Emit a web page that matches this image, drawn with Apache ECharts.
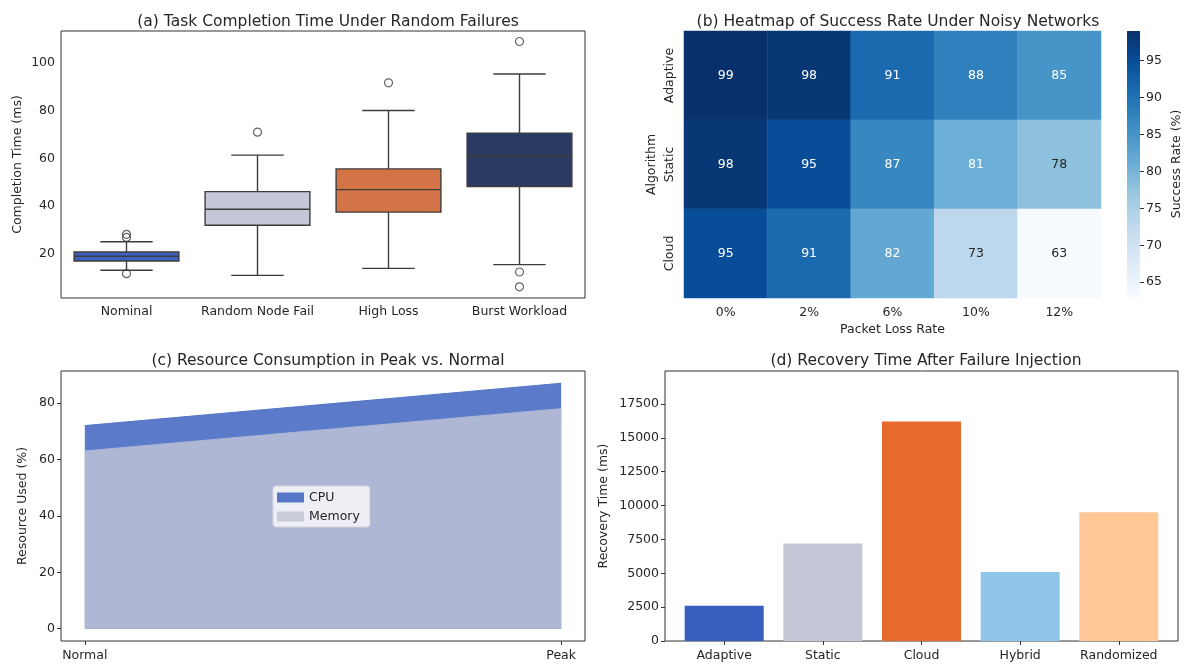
<!DOCTYPE html>
<html>
<head>
<meta charset="utf-8">
<script src="https://cdn.jsdelivr.net/npm/echarts@6/dist/echarts.min.js"></script>
<style>
  html, body { margin: 0; padding: 0; background: #fff; }
  #chart { width: 1186px; height: 667px; }
</style>
</head>
<body>
<div id="chart"></div>
<script>
// (a) completion time box statistics per scenario
const boxCategories = ['Nominal', 'Random Node Fail', 'High Loss', 'Burst Workload'];
const boxLow = [13.1, 11.0, 13.9, 15.5];
const boxQ1 = [17.0, 32.0, 37.5, 48.2];
const boxMedian = [19.0, 38.7, 46.9, 60.8];
const boxQ3 = [20.8, 46.1, 55.6, 70.6];
const boxHigh = [25.1, 61.4, 80.1, 95.4];
const boxOutliers = [[0, 28.2], [0, 26.9], [0, 11.7], [1, 71.0], [2, 91.7], [3, 109.0], [3, 12.4], [3, 6.2]];
const boxColors = ['#3d60c2', '#c3c7d6', '#d47345', '#2a3a62'];

// (b) success rate by algorithm and packet loss
const lossRates = ['0%', '2%', '6%', '10%', '12%'];
const algorithms = ['Adaptive', 'Static', 'Cloud'];
const successAdaptive = [99, 98, 91, 88, 85];
const successStatic = [98, 95, 87, 81, 78];
const successCloud = [95, 91, 82, 73, 63];
const colorbarTicks = [65, 70, 75, 80, 85, 90, 95];
const blues = ['#f7fbff', '#deebf7', '#c6dbef', '#9ecae1', '#6baed6', '#4292c6', '#2171b5', '#08519c', '#08306b'];

// (c) resource use
const phases = ['Normal', 'Peak'];
const cpuUsed = [72, 87];
const memoryUsed = [63, 78];

// (d) recovery time
const strategies = ['Adaptive', 'Static', 'Cloud', 'Hybrid', 'Randomized'];
const recoveryMs = [2600, 7200, 16200, 5100, 9500];
const recoveryTicks = [0, 2500, 5000, 7500, 10000, 12500, 15000, 17500];
const barColors = ['#385fbf', '#c3c7d6', '#e8692d', '#8fc6ea', '#ffc896'];

const FONT = 'DejaVu Sans';
const TXT = '#262626';
const EDGE = '#3d3d3d';
const TICK_FS = 12.5;

const successRows = [successAdaptive, successStatic, successCloud];
const heatData = [];
successRows.forEach((row, r) => row.forEach((v, c) => {
  heatData.push({ value: [c, r, v], label: { color: v >= 80 ? '#ffffff' : TXT } });
}));

const boxData = boxCategories.map((_, i) => [i, boxLow[i], boxQ1[i], boxMedian[i], boxQ3[i], boxHigh[i]]);

const noLine = { show: false, onZero: false };
const tickStyle = { length: 4, lineStyle: { color: '#333', width: 1 } };
const labelStyle = { color: TXT, fontSize: TICK_FS, fontFamily: FONT, interval: 0, hideOverlap: false };
const nameStyle = { color: TXT, fontSize: TICK_FS, fontFamily: FONT };

const chart = echarts.init(document.getElementById('chart'), null, { renderer: 'canvas' });

const option = {
  animation: false,
  backgroundColor: '#ffffff',
  textStyle: { fontFamily: FONT },
  title: [
    { text: '(a) Task Completion Time Under Random Failures', left: 323, top: 9 },
    { text: '(b) Heatmap of Success Rate Under Noisy Networks', left: 893, top: 9 },
    { text: '(c) Resource Consumption in Peak vs. Normal', left: 323, top: 348 },
    { text: '(d) Recovery Time After Failure Injection', left: 921, top: 348 }
  ].map(t => Object.assign(t, { textAlign: 'center', textStyle: { color: TXT, fontSize: 15.5, fontWeight: 'normal', fontFamily: FONT } })),
  grid: [
    { left: 61, top: 31, width: 524, height: 267, show: true, borderColor: '#333', borderWidth: 1, backgroundColor: 'transparent' },
    { left: 684, top: 31, width: 417, height: 267 },
    { left: 1127, top: 31, width: 13, height: 266 },
    { left: 61, top: 371, width: 524, height: 270, show: true, borderColor: '#333', borderWidth: 1, backgroundColor: 'transparent' },
    { left: 665, top: 371, width: 513, height: 270, show: true, borderColor: '#333', borderWidth: 1, backgroundColor: 'transparent' }
  ],
  xAxis: [
    { gridIndex: 0, type: 'category', data: boxCategories, boundaryGap: true,
      axisLine: noLine, axisTick: Object.assign({ alignWithLabel: true, interval: 0 }, tickStyle),
      axisLabel: Object.assign({ margin: 7 }, labelStyle), splitLine: { show: false } },
    { gridIndex: 1, type: 'category', data: lossRates, boundaryGap: true,
      axisLine: noLine, axisTick: Object.assign({ alignWithLabel: true, interval: 0 }, tickStyle),
      axisLabel: Object.assign({ margin: 8 }, labelStyle),
      name: 'Packet Loss Rate', nameLocation: 'middle', nameGap: 25, nameTextStyle: nameStyle },
    { gridIndex: 2, type: 'value', min: 0, max: 1, show: false },
    { gridIndex: 3, type: 'value', min: -0.05, max: 1.05,
      axisLine: noLine, axisTick: Object.assign({ customValues: [0, 1] }, tickStyle),
      axisLabel: Object.assign({ customValues: [0, 1], margin: 8, formatter: v => phases[Math.round(v)] }, labelStyle),
      splitLine: { show: false } },
    { gridIndex: 4, type: 'value', min: -0.6, max: 4.6,
      axisLine: noLine, axisTick: Object.assign({ customValues: [0, 1, 2, 3, 4] }, tickStyle),
      axisLabel: Object.assign({ customValues: [0, 1, 2, 3, 4], margin: 8, formatter: v => strategies[Math.round(v)] }, labelStyle),
      splitLine: { show: false } }
  ],
  yAxis: [
    { gridIndex: 0, type: 'value', min: 1.5, max: 113.4,
      axisLine: noLine, axisTick: Object.assign({ customValues: [20, 40, 60, 80, 100] }, tickStyle),
      axisLabel: Object.assign({ customValues: [20, 40, 60, 80, 100], margin: 6 }, labelStyle),
      splitLine: { show: false },
      name: 'Completion Time (ms)', nameLocation: 'middle', nameGap: 37, nameTextStyle: nameStyle },
    { gridIndex: 1, type: 'category', data: algorithms, inverse: true, boundaryGap: true,
      axisLine: noLine, axisTick: Object.assign({ alignWithLabel: true, interval: 0 }, tickStyle),
      axisLabel: Object.assign({ rotate: 90, margin: 8 }, labelStyle),
      name: 'Algorithm', nameLocation: 'middle', nameGap: 26, nameTextStyle: nameStyle },
    { gridIndex: 2, type: 'value', min: 63, max: 99, position: 'right',
      axisLine: noLine, axisTick: Object.assign({ customValues: colorbarTicks }, tickStyle),
      axisLabel: Object.assign({ customValues: colorbarTicks, margin: 6 }, labelStyle),
      splitLine: { show: false },
      name: 'Success Rate (%)', nameLocation: 'middle', nameGap: 30, nameRotate: 90, nameTextStyle: nameStyle },
    { gridIndex: 3, type: 'value', min: -4.35, max: 91.35,
      axisLine: noLine, axisTick: Object.assign({ customValues: [0, 20, 40, 60, 80] }, tickStyle),
      axisLabel: Object.assign({ customValues: [0, 20, 40, 60, 80], margin: 6 }, labelStyle),
      splitLine: { show: false },
      name: 'Resource Used (%)', nameLocation: 'middle', nameGap: 32, nameTextStyle: nameStyle },
    { gridIndex: 4, type: 'value', min: 0, max: 19930,
      axisLine: noLine,
      axisTick: Object.assign({ customValues: recoveryTicks }, tickStyle),
      axisLabel: Object.assign({ customValues: recoveryTicks, margin: 6, formatter: v => String(v) }, labelStyle),
      splitLine: { show: false },
      name: 'Recovery Time (ms)', nameLocation: 'middle', nameGap: 55, nameTextStyle: nameStyle }
  ],
  visualMap: [{
    type: 'continuous', show: false, seriesIndex: 2, dimension: 2,
    min: 63, max: 99, inRange: { color: blues }
  }],
  legend: {
    left: 273, top: 486, orient: 'vertical', icon: 'rect',
    itemWidth: 27, itemHeight: 10, itemGap: 6,
    padding: [5, 10, 4, 4],
    backgroundColor: 'rgba(240,241,246,0.95)', borderColor: '#d5d6dc', borderWidth: 1, borderRadius: 3,
    textStyle: { color: TXT, fontSize: TICK_FS, fontFamily: FONT },
    data: [
      { name: 'CPU', itemStyle: { color: '#5677c8' } },
      { name: 'Memory', itemStyle: { color: '#c8ccd9' } }
    ]
  },
  series: [
    // (a) boxes with half-width whisker caps
    {
      type: 'custom', xAxisIndex: 0, yAxisIndex: 0, data: boxData,
      renderItem: function (params, api) {
        const i = api.value(0);
        const band = api.size([1, 0])[0];
        const bw = band * 0.8;
        const cw = bw * 0.5;
        const lo = api.coord([i, api.value(1)]);
        const q1 = api.coord([i, api.value(2)]);
        const md = api.coord([i, api.value(3)]);
        const q3 = api.coord([i, api.value(4)]);
        const hi = api.coord([i, api.value(5)]);
        const cx = lo[0];
        const ls = { stroke: EDGE, lineWidth: 1.4 };
        return {
          type: 'group',
          children: [
            { type: 'line', shape: { x1: cx, y1: q1[1], x2: cx, y2: lo[1] }, style: ls },
            { type: 'line', shape: { x1: cx, y1: q3[1], x2: cx, y2: hi[1] }, style: ls },
            { type: 'line', shape: { x1: cx - cw / 2, y1: lo[1], x2: cx + cw / 2, y2: lo[1] }, style: ls },
            { type: 'line', shape: { x1: cx - cw / 2, y1: hi[1], x2: cx + cw / 2, y2: hi[1] }, style: ls },
            { type: 'rect', shape: { x: cx - bw / 2, y: q3[1], width: bw, height: q1[1] - q3[1] },
              style: { fill: boxColors[i], stroke: EDGE, lineWidth: 1.4 } },
            { type: 'line', shape: { x1: cx - bw / 2, y1: md[1], x2: cx + bw / 2, y2: md[1] }, style: ls }
          ]
        };
      }
    },
    {
      type: 'scatter', xAxisIndex: 0, yAxisIndex: 0, data: boxOutliers,
      symbol: 'circle', symbolSize: 8,
      itemStyle: { color: 'rgba(255,255,255,0)', borderColor: EDGE, borderWidth: 1.2 }
    },
    // (b) heatmap
    {
      type: 'heatmap', xAxisIndex: 1, yAxisIndex: 1, data: heatData,
      itemStyle: { borderColor: 'rgba(255,255,255,0.08)', borderWidth: 0.5 },
      label: { show: true, fontSize: TICK_FS, fontFamily: FONT, formatter: p => p.value[2] }
    },
    // colour bar for the heatmap scale
    {
      type: 'custom', xAxisIndex: 2, yAxisIndex: 2, data: [[0, 63, 99]], silent: true,
      renderItem: function (params, api) {
        const top = api.coord([0, api.value(2)]);
        const bottom = api.coord([1, api.value(1)]);
        const stops = blues.slice().reverse().map((c, k) => ({ offset: k / (blues.length - 1), color: c }));
        return {
          type: 'rect',
          shape: { x: top[0], y: top[1], width: bottom[0] - top[0], height: bottom[1] - top[1] },
          style: { fill: new echarts.graphic.LinearGradient(0, 0, 0, 1, stops) }
        };
      }
    },
    // (c) area chart
    {
      name: 'CPU', type: 'line', xAxisIndex: 3, yAxisIndex: 3,
      data: phases.map((_, i) => [i, cpuUsed[i]]), symbol: 'none',
      lineStyle: { color: '#5577c8', width: 1 }, itemStyle: { color: '#5677c8' },
      areaStyle: { color: '#5b7bca', opacity: 1 }
    },
    {
      name: 'Memory', type: 'line', xAxisIndex: 3, yAxisIndex: 3,
      data: phases.map((_, i) => [i, memoryUsed[i]]), symbol: 'none',
      lineStyle: { color: '#aeb7d4', width: 1 }, itemStyle: { color: '#c8ccd9' },
      areaStyle: { color: '#aeb7d4', opacity: 1 }
    },
    // (d) bars
    {
      type: 'bar', xAxisIndex: 4, yAxisIndex: 4, barWidth: 79,
      data: strategies.map((_, i) => ({ value: [i, recoveryMs[i]], itemStyle: { color: barColors[i] } }))
    }
  ]
};

chart.setOption(option);
</script>
</body>
</html>
